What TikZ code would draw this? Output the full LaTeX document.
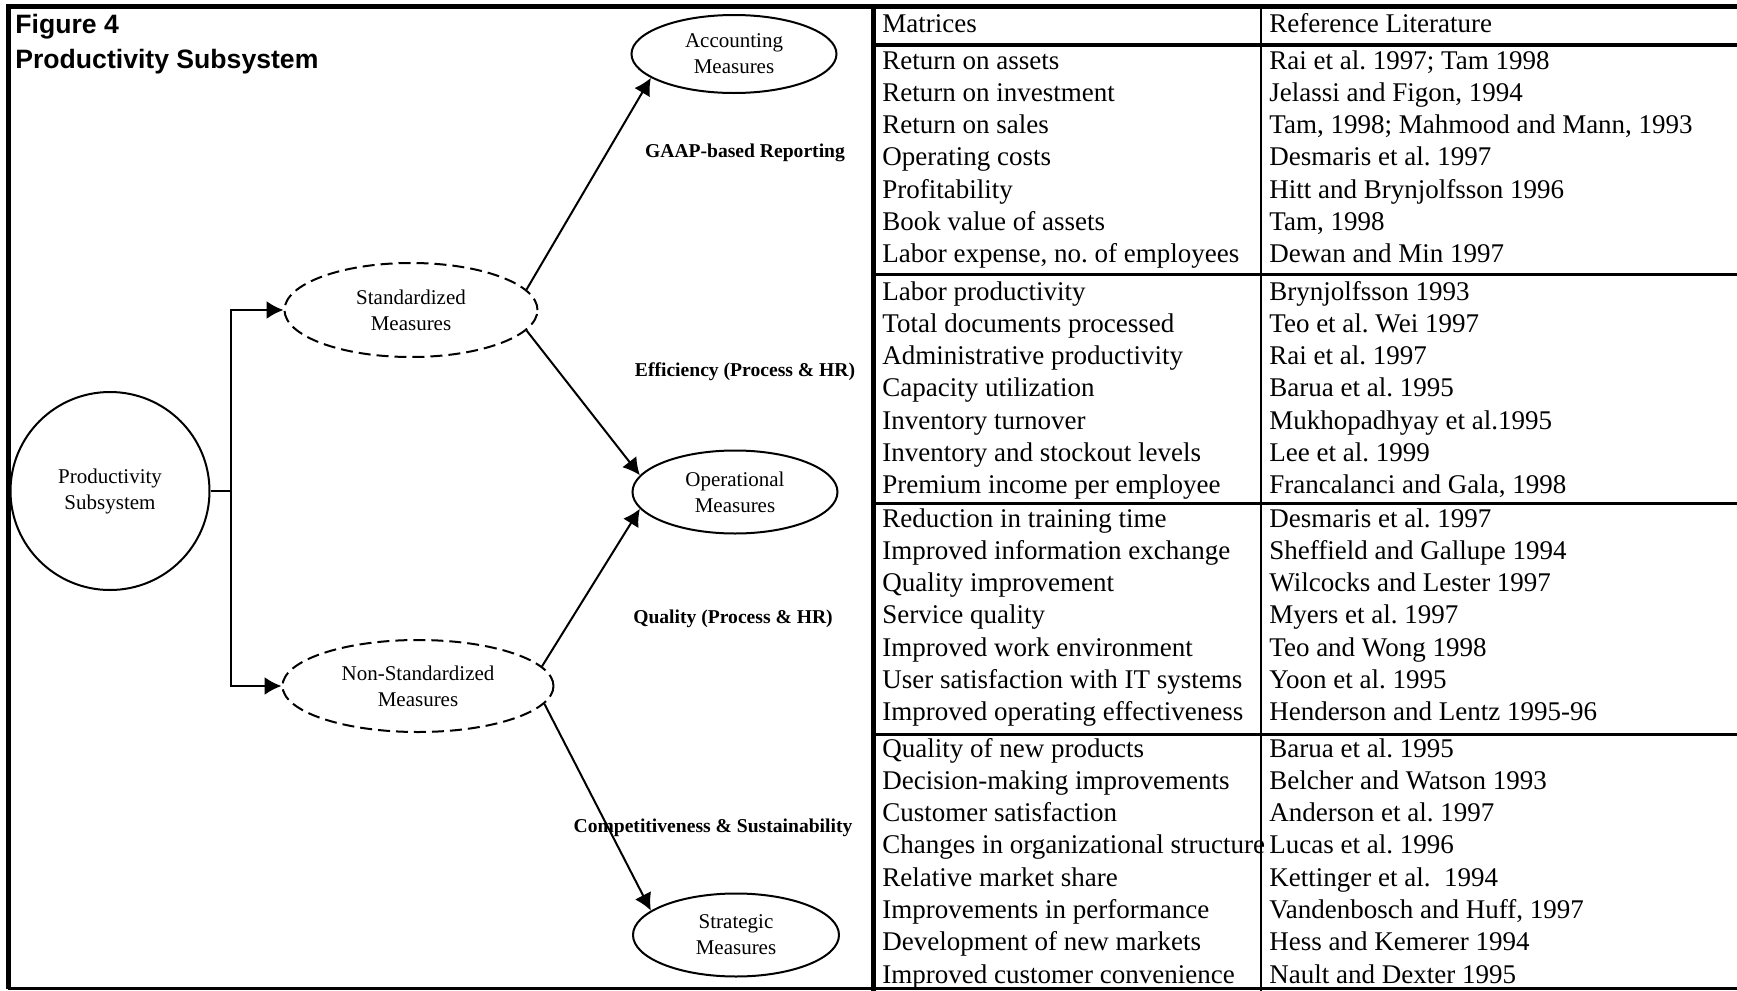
\documentclass[tikz,border=0pt]{standalone}
\usepackage{fontspec}
\setmainfont{Liberation Serif}
\newfontfamily\titlefont{Liberation Sans}
\usetikzlibrary{shapes.geometric,arrows.meta}

\begin{document}
\frenchspacing
\begin{tikzpicture}[x=0.5pt,y=-0.5pt,
	measure/.style={ellipse,draw,line width=1pt,inner sep=0pt,align=center,
		font=\fontsize{10.5}{13}\selectfont},
	soft/.style={measure,dash pattern=on 6pt off 3pt},
	flow/.style={font=\bfseries\fontsize{9.8}{12}\selectfont},
	heading/.style={anchor=base west,inner sep=0pt,font=\titlefont\bfseries\fontsize{13.3}{16}\selectfont},
	cell/.style={anchor=base west,inner sep=0pt,font=\fontsize{13.5}{16}\selectfont},
	conn/.style={line width=1pt,-{Latex[length=8.5pt,width=9pt]}}]
		\useasboundingbox (0,0) rectangle (1737,991);
		% frame
		\draw[line width=2.5pt] (1737,6.5) -- (8,6.5) -- (8,989);
		\draw[line width=1.5pt] (8,988.5) -- (1737,988.5);
		\draw[line width=2.5pt] (873.5,6.5) -- (873.5,991);
		\draw[line width=1.25pt] (1261,6.5) -- (1261,991);
		\draw[line width=2pt] (873.5,45) -- (1737,45);
		\foreach \y in {274,503.5,734.5}
			\draw[line width=1.5pt] (873.5,\y) -- (1737,\y);
		% diagram
		\node[heading] (fig) at (15,33) {Figure 4};
		\node[heading] (title) at (15,68) {Productivity Subsystem};
		\node[measure,minimum width=99.5pt,minimum height=99pt] (prod) at (110,491) {Productivity\\Subsystem};
		\node[soft,minimum width=126.5pt,minimum height=47pt] (std) at (411,310) {Standardized\\Measures};
		\node[soft,minimum width=135.5pt,minimum height=46pt] (nstd) at (418,686) {Non-Standardized\\Measures};
		\node[measure,minimum width=102.5pt,minimum height=39pt] (acc) at (734,54) {Accounting\\Measures};
		\node[measure,minimum width=102.5pt,minimum height=41.5pt] (oper) at (735,492) {Operational\\Measures};
		\node[measure,minimum width=103pt,minimum height=41.5pt] (strat) at (736,935) {Strategic\\Measures};
		\node[flow] (gaap) at (745,153) {GAAP-based Reporting};
		\node[flow] (effic) at (745,372) {Efficiency (Process \& HR)};
		\node[flow] (qual) at (733,619) {Quality (Process \& HR)};
		\node[flow] (comp) at (713,828) {Competitiveness \& Sustainability};
		\coordinate (fork) at (231,491);
		\draw[line width=1pt] (prod.east) -- (fork);
		\draw[conn] (fork) |- (std.west);
		\draw[conn] (fork) |- (nstd.west);
		\draw[conn] (std.10) -- (acc.196);
		\draw[conn] (std.-10) -- (oper.170);
		\draw[conn] (nstd.9) -- (oper.190);
		\draw[conn] (nstd.-8) -- (strat.164);
		% table
		\node[cell] (mhead) at (882,32) {Matrices};
		\node[cell] (rhead) at (1269,32) {Reference Literature};
		\foreach \m/\r [count=\i] in {
			{Return on assets}/{Rai et al. 1997; Tam 1998},
			{Return on investment}/{Jelassi and Figon, 1994},
			{Return on sales}/{Tam, 1998; Mahmood and Mann, 1993},
			{Operating costs}/{Desmaris et al. 1997},
			{Profitability}/{Hitt and Brynjolfsson 1996},
			{Book value of assets}/{Tam, 1998},
			{Labor expense, no. of employees}/{Dewan and Min 1997}} {
			\node[cell] (ma\i) at (882,{69+32.3*(\i-1)}) {\m};
			\node[cell] (ra\i) at (1269,{69+32.3*(\i-1)}) {\r};
		}
		\foreach \m/\r [count=\i] in {
			{Labor productivity}/{Brynjolfsson 1993},
			{Total documents processed}/{Teo et al. Wei 1997},
			{Administrative productivity}/{Rai et al. 1997},
			{Capacity utilization}/{Barua et al. 1995},
			{Inventory turnover}/{Mukhopadhyay et al.1995},
			{Inventory and stockout levels}/{Lee et al. 1999},
			{Premium income per employee}/{Francalanci and Gala, 1998}} {
			\node[cell] (mb\i) at (882,{300+32.3*(\i-1)}) {\m};
			\node[cell] (rb\i) at (1269,{300+32.3*(\i-1)}) {\r};
		}
		\foreach \m/\r [count=\i] in {
			{Reduction in training time}/{Desmaris et al. 1997},
			{Improved information exchange}/{Sheffield and Gallupe 1994},
			{Quality improvement}/{Wilcocks and Lester 1997},
			{Service quality}/{Myers et al. 1997},
			{Improved work environment}/{Teo and Wong 1998},
			{User satisfaction with IT systems}/{Yoon et al. 1995},
			{Improved operating effectiveness}/{Henderson and Lentz 1995-96}} {
			\node[cell] (mc\i) at (882,{527+32.3*(\i-1)}) {\m};
			\node[cell] (rc\i) at (1269,{527+32.3*(\i-1)}) {\r};
		}
		\foreach \m/\r [count=\i] in {
			{Quality of new products}/{Barua et al. 1995},
			{Decision-making improvements}/{Belcher and Watson 1993},
			{Customer satisfaction}/{Anderson et al. 1997},
			{Changes in organizational structure}/{Lucas et al. 1996},
			{Relative market share}/{Kettinger et al.\ \ 1994},
			{Improvements in performance}/{Vandenbosch and Huff, 1997},
			{Development of new markets}/{Hess and Kemerer 1994},
			{Improved customer convenience}/{Nault and Dexter 1995}} {
			\node[cell] (md\i) at (882,{757+32.3*(\i-1)}) {\m};
			\node[cell] (rd\i) at (1269,{757+32.3*(\i-1)}) {\r};
		}
	\end{tikzpicture}
\end{document}
